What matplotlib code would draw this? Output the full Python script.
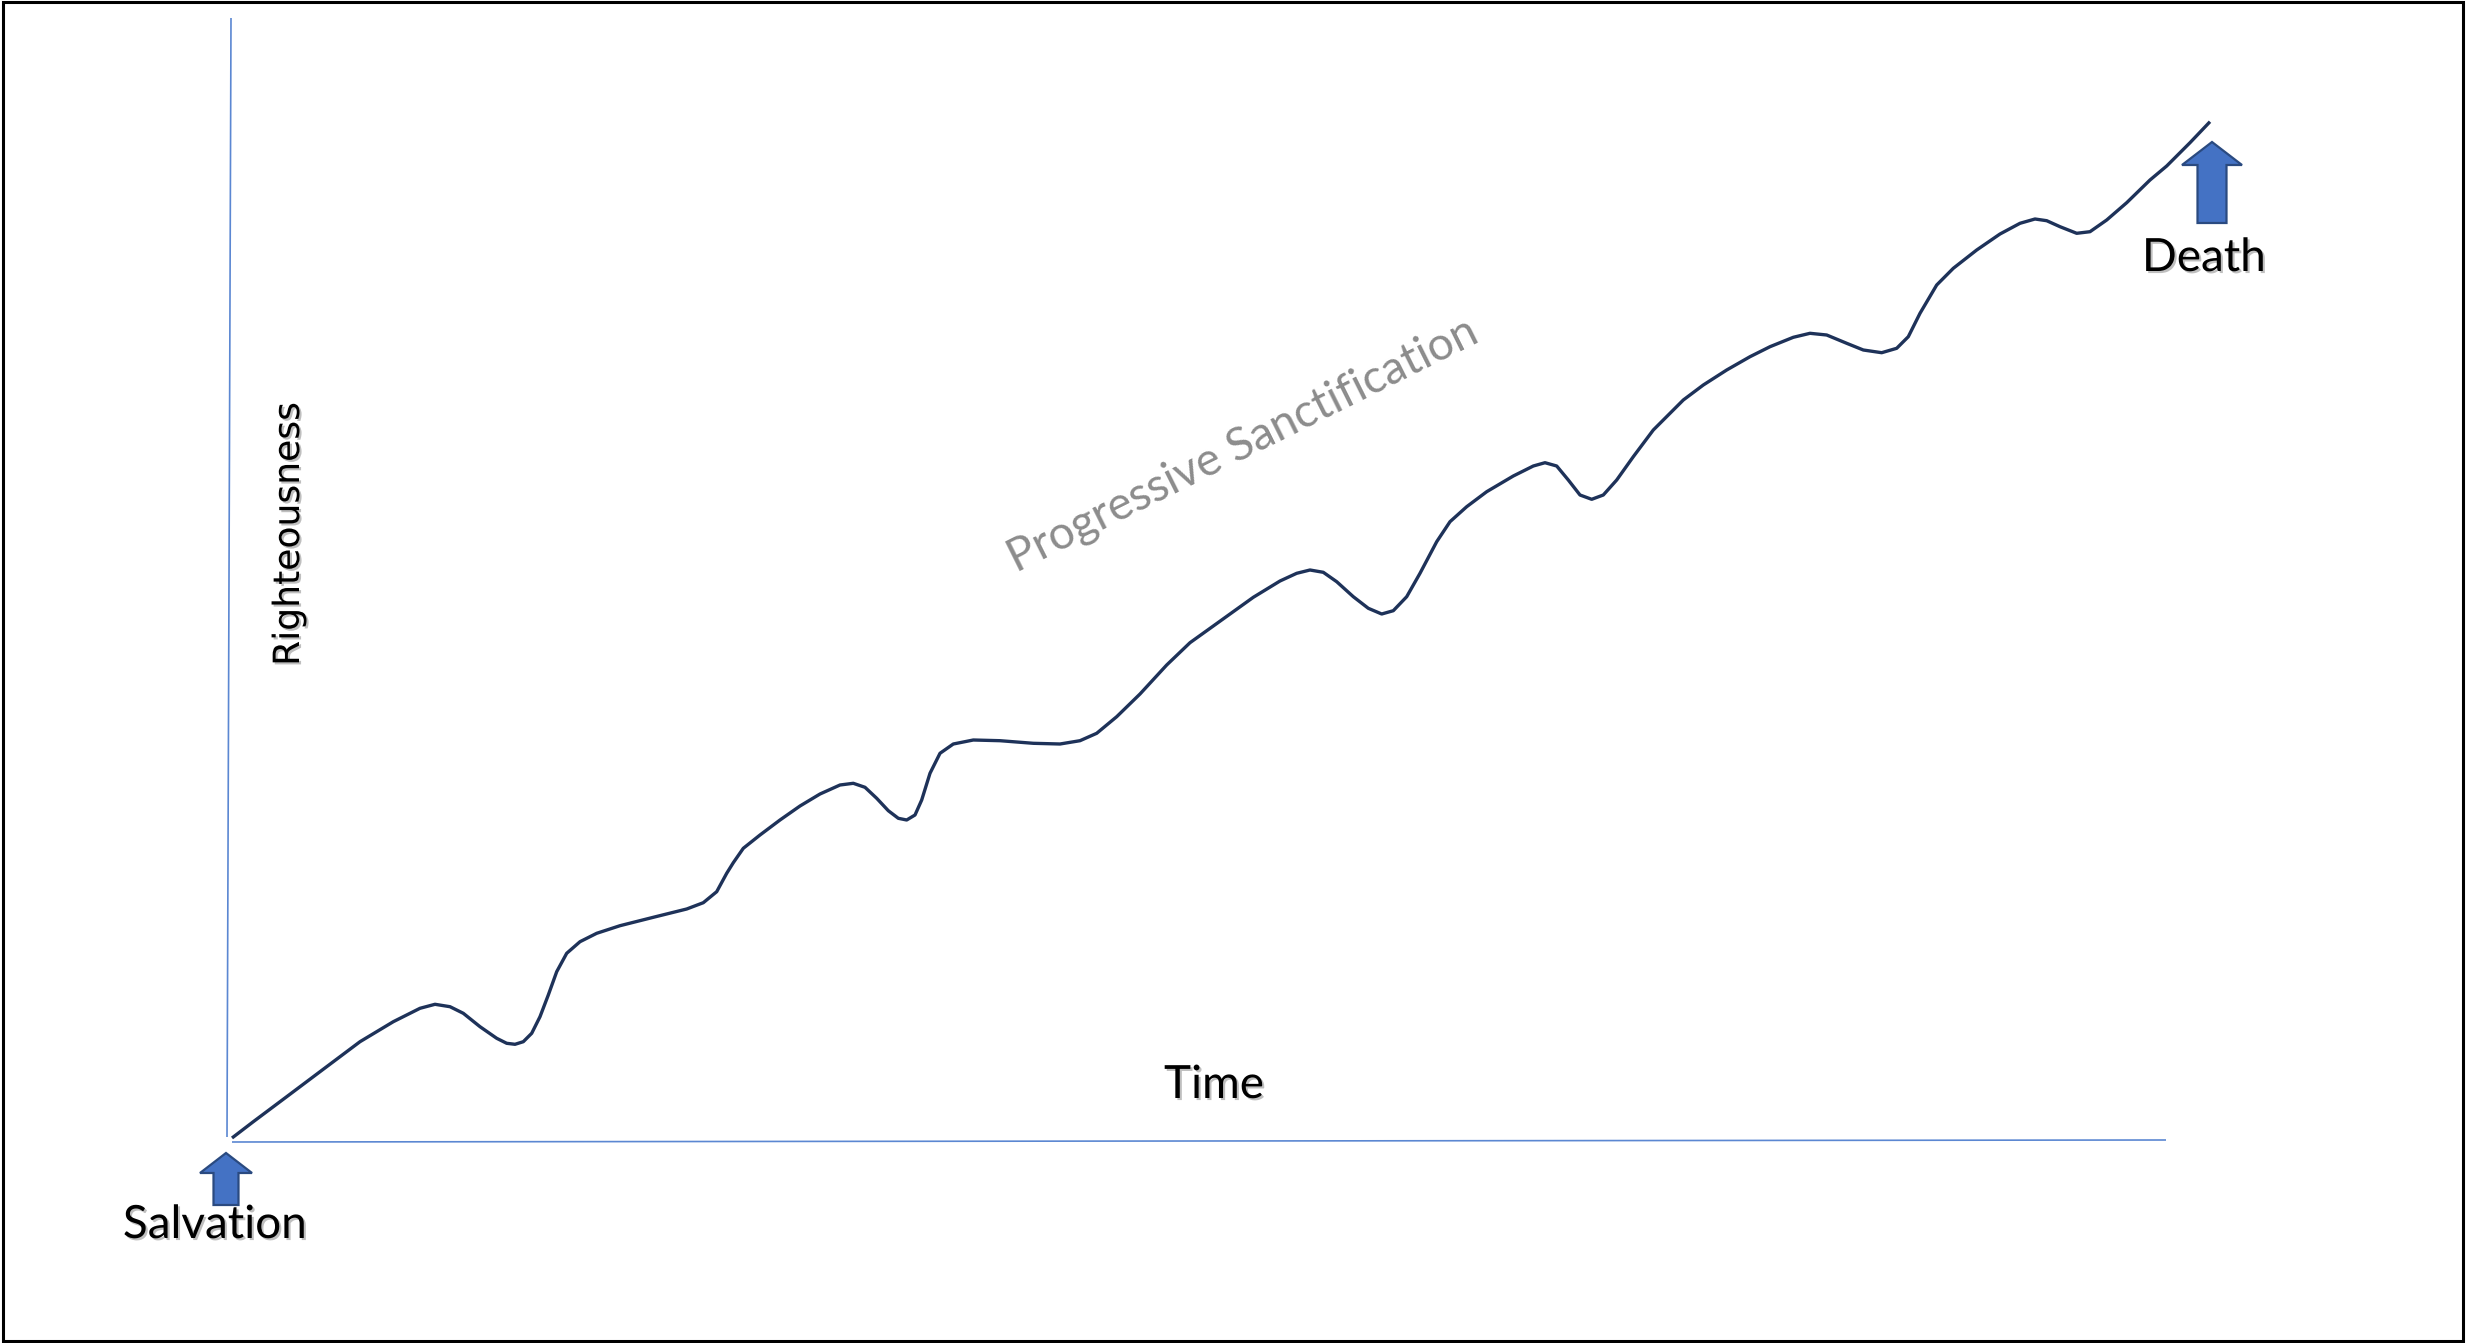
import matplotlib
matplotlib.use("Agg")
import matplotlib.pyplot as plt
import matplotlib.patheffects as pe
from matplotlib.patches import FancyArrow, Rectangle

# ---- data (time, righteousness) ----
time = [0.0, 2.13, 5.47, 8.8, 12.8, 16.13, 18.8, 20.3, 21.8, 23.13, 24.8,
        26.47, 27.47, 28.3, 29.13, 29.97, 30.8, 31.63, 32.47, 33.47, 34.8,
        36.47, 38.8, 42.13, 45.47, 47.13, 48.47, 49.47, 50.13, 51.13, 52.8,
        54.8, 56.8, 58.8, 60.8, 62.13, 63.3, 64.47, 65.63, 66.63, 67.47,
        68.3, 68.97, 69.8, 70.8, 72.13, 74.13, 76.8, 80.13, 82.8, 84.8,
        86.47, 88.47, 90.8, 93.47, 95.8, 98.13, 102.13, 104.8, 106.47, 107.8,
        109.13, 110.47, 112.13, 113.63, 114.97, 116.13, 117.47, 118.8,
        120.47, 121.8, 123.47, 125.47, 128.13, 130.13, 131.3, 132.47, 133.63,
        134.8, 135.97, 137.13, 138.47, 140.13, 142.13, 142.8, 145.13, 147.13,
        149.47, 151.8, 153.8, 156.13, 157.8, 159.47, 161.47, 163.13, 164.97,
        166.47, 167.63, 168.8, 170.47, 172.13, 174.47, 176.8, 178.8, 180.3,
        181.47, 182.8, 184.47, 185.8, 187.47, 189.47, 191.8, 193.47, 195.8,
        197.8]
righteousness = [0.4, 2.03, 4.53, 7.03, 10.03, 12.03, 13.37, 13.77, 13.53,
                 12.87, 11.53, 10.37, 9.87, 9.77, 10.03, 10.87, 12.53, 14.7,
                 17.03, 18.87, 20.03, 20.87, 21.63, 22.47, 23.3, 23.93, 25.03,
                 26.87, 27.93, 29.37, 30.7, 32.2, 33.6, 34.8, 35.7, 35.87,
                 35.47, 34.37, 33.13, 32.37, 32.2, 32.7, 34.2, 36.87, 38.87,
                 39.8, 40.2, 40.13, 39.87, 39.8, 40.13, 40.87, 42.53, 44.8,
                 47.7, 49.93, 51.6, 54.47, 56.1, 56.87, 57.2, 56.97, 56.03,
                 54.53, 53.37, 52.8, 53.13, 54.53, 56.87, 60.03, 62.03, 63.53,
                 65.03, 66.6, 67.6, 67.93, 67.6, 66.2, 64.7, 64.27, 64.7, 66.2,
                 68.53, 71.2, 71.87, 74.2, 75.7, 77.2, 78.53, 79.53, 80.47,
                 80.87, 80.7, 79.87, 79.2, 78.93, 79.37, 80.53, 82.87, 85.7,
                 87.37, 89.2, 90.8, 91.87, 92.3, 92.13, 91.53, 90.87, 91.03,
                 92.2, 93.93, 96.2, 97.6, 99.93, 102.03]

labels = {"start": "Salvation", "end": "Death", "x": "Time",
          "y": "Righteousness", "curve": "Progressive Sanctification"}

W, H = 2466, 1343
fig = plt.figure(figsize=(W / 100, H / 100), dpi=100)
ax = fig.add_axes([0, 0, 1, 1])
ax.set_xlim(-23.2, 223.4)
ax.set_ylim(-20.1, 114.2)
ax.axis("off")

axis_blue = "#5b87d2"
# axes lines
ax.plot([-0.5, -0.1], [0.5, 112.4], color=axis_blue, lw=1.2, solid_capstyle="butt")
ax.plot([0.0, 193.4], [0.0, 0.2], color=axis_blue, lw=1.2, solid_capstyle="butt")

# the curve
ax.plot(time, righteousness, color="#1e3259", lw=2.4,
        solid_joinstyle="round", solid_capstyle="butt")

# block arrows
arrow_kw = dict(length_includes_head=True, facecolor="#4472c4",
                edgecolor="#2a4a80", lw=1.6, joinstyle="miter")
ax.add_patch(FancyArrow(-0.6, -6.3, 0, 5.2, width=2.5, head_width=5.2,
                        head_length=2.0, **arrow_kw))
ax.add_patch(FancyArrow(198.0, 91.9, 0, 8.1, width=2.9, head_width=6.0,
                        head_length=2.3, **arrow_kw))

shadow = [pe.SimplePatchShadow(offset=(1.5, -1.5), shadow_rgbFace="#000000",
                               alpha=0.25), pe.Normal()]
font = "Lato"
ax.text(-1.7, -8.3, labels["start"], fontsize=33, family=font, ha="center",
        va="center", color="black", path_effects=shadow)
ax.text(197.2, 88.4, labels["end"], fontsize=33, family=font, ha="center",
        va="center", color="black", path_effects=shadow)
ax.text(98.2, 5.7, labels["x"], fontsize=33, family=font, ha="center",
        va="center", color="black", path_effects=shadow)
ax.text(5.7, 60.8, labels["y"], fontsize=26, family="Liberation Sans Narrow",
        rotation=90, ha="center", va="center", color="black",
        path_effects=shadow)
ax.text(101.1, 69.7, labels["curve"], fontsize=33, family=font,
        rotation=26.5, rotation_mode="anchor", ha="center", va="center",
        color="#8c8c8c")

# outer frame
fig.patches.append(Rectangle((3 / W, 2 / H), 2460 / W, 1339 / H,
                             transform=fig.transFigure, fill=False,
                             edgecolor="black", lw=2.2))

fig.savefig("out.png", dpi=100, facecolor="white")
